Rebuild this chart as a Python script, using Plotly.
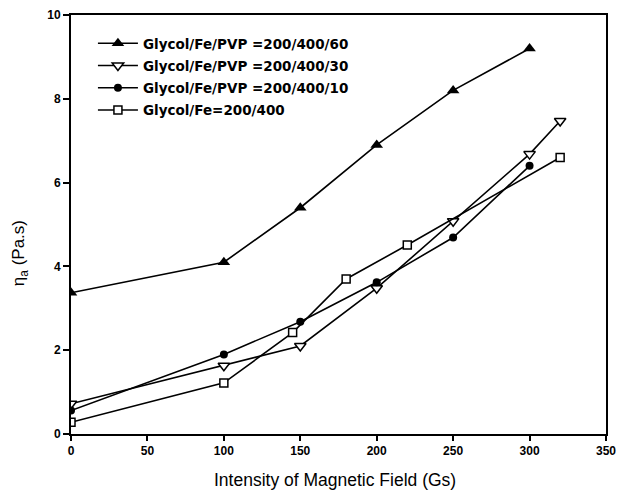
import plotly.graph_objects as go

names = ["Glycol/Fe/PVP =200/400/60", "Glycol/Fe/PVP =200/400/30",
         "Glycol/Fe/PVP =200/400/10", "Glycol/Fe=200/400"]

x60 = [0, 100, 150, 200, 250, 300]
y60 = [3.37, 4.1, 5.4, 6.9, 8.2, 9.2]

x30 = [0, 100, 150, 200, 250, 300, 320]
y30 = [0.72, 1.63, 2.1, 3.48, 5.08, 6.68, 7.47]

x10 = [0, 100, 150, 200, 250, 300]
y10 = [0.56, 1.9, 2.68, 3.62, 4.69, 6.4]

x0 = [0, 100, 145, 180, 220, 320]
y0 = [0.28, 1.22, 2.42, 3.7, 4.51, 6.6]

font = "Arial, Liberation Sans, sans-serif"

fig = go.Figure()
series = [
    (x60, y60, names[0], dict(symbol="triangle-up", size=11, color="black")),
    (x30, y30, names[1], dict(symbol="triangle-down", size=10, color="white", line=dict(color="black", width=1.5))),
    (x10, y10, names[2], dict(symbol="circle", size=8, color="black")),
    (x0, y0, names[3], dict(symbol="square", size=8, color="white", line=dict(color="black", width=1.5))),
]
for i, (xs, ys, nm, mk) in enumerate(series):
    fig.add_trace(go.Scatter(x=xs, y=ys, name=nm, mode="lines+markers", legendgroup=f"g{i}",
                             line=dict(color="black", width=1.6), marker=mk))

fig.update_layout(
    width=619, height=496,
    margin=dict(l=71, r=13, t=15, b=62, autoexpand=False),
    plot_bgcolor="white", paper_bgcolor="white",
    font=dict(family=font, color="black"),
    showlegend=True,
    legend=dict(x=0.041, y=0.969, xanchor="left", yanchor="top",
                bgcolor="rgba(0,0,0,0)",
                font=dict(size=13.5, family="DejaVu Sans, sans-serif", weight="bold"),
                tracegroupgap=1.7, itemwidth=40),
    annotations=[
        dict(text="η<sub>a</sub> (Pa.s)", textangle=-90, xref="paper", yref="paper",
             x=-0.095, y=0.432, xanchor="center", yanchor="middle", showarrow=False,
             font=dict(size=17, family=font)),
        dict(text="Intensity of Magnetic Field (Gs)", xref="paper", yref="paper",
             x=0.494, y=-0.11, xanchor="center", yanchor="middle", showarrow=False,
             font=dict(size=17.5, family=font)),
    ],
)
fig.update_xaxes(range=[0, 350], tickvals=[0, 50, 100, 150, 200, 250, 300, 350],
                 ticks="outside", ticklen=5, tickwidth=1.5, tickcolor="black",
                 showline=True, linewidth=2, linecolor="black", mirror=True,
                 showgrid=False, zeroline=False, automargin=False,
                 tickfont=dict(size=12, family=font, weight="bold"))
fig.update_yaxes(range=[0, 10], tickvals=[0, 2, 4, 6, 8, 10],
                 ticks="outside", ticklen=6, tickwidth=1.5, tickcolor="black",
                 showline=True, linewidth=2, linecolor="black", mirror=True,
                 showgrid=False, zeroline=False, automargin=False,
                 tickfont=dict(size=12, family=font, weight="bold"))

fig.write_html("out.html")
